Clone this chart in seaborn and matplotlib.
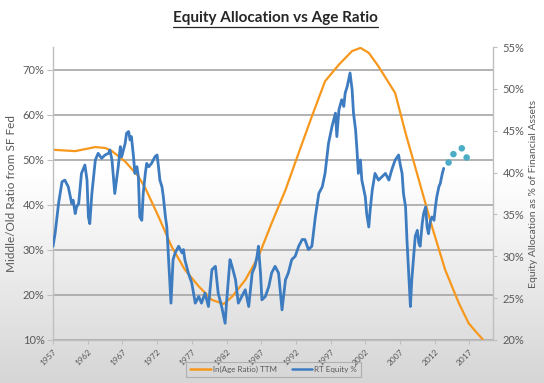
import numpy as np
import pandas as pd
import seaborn as sns
import matplotlib.pyplot as plt
from matplotlib.lines import Line2D
from matplotlib.colors import LinearSegmentedColormap

# ===== DATA =====
# orange curve, left axis (%)
age_years = [1957.0, 1960.2, 1963.1, 1964.5, 1965.5, 1967.4, 1969.3, 1970.3, 1972.2,
             1974.1, 1976.0, 1978.0, 1979.9, 1981.6, 1982.8, 1984.7, 1986.6, 1988.5,
             1990.5, 1992.4, 1994.3, 1996.2, 1998.2, 2000.1, 2001.3, 2002.5, 2003.9,
             2006.3, 2007.8, 2009.7, 2011.6, 2013.5, 2015.5, 2016.9, 2017.9, 2019.0]
age_ratio = [52.2, 51.9, 52.8, 52.6, 51.9, 49.6, 46.3, 43.7, 37.4,
             30.7, 25.6, 21.9, 18.9, 18.0, 19.6, 23.3, 28.5, 35.9,
             43.3, 51.5, 59.6, 67.4, 71.1, 74.1, 74.8, 73.7, 70.7,
             64.8, 55.9, 45.6, 35.2, 25.6, 18.1, 13.7, 11.9, 10.0]

# blue line, right axis (%)
eq_years = [1957.0, 1957.3, 1957.8, 1958.3, 1958.7, 1959.2, 1959.5, 1959.7, 1959.9, 1960.2,
            1960.4, 1960.7, 1961.1, 1961.6, 1961.9, 1962.1, 1962.3, 1962.6, 1963.1, 1963.5,
            1964.0, 1964.5, 1965.0, 1965.2, 1965.5, 1965.9, 1966.4, 1966.7, 1966.9, 1967.4,
            1967.6, 1967.9, 1968.1, 1968.3, 1968.6, 1968.8, 1969.1, 1969.3, 1969.5, 1969.8,
            1970.0, 1970.3, 1970.5, 1970.8, 1971.2, 1971.7, 1972.0, 1972.2, 1972.4, 1972.7,
            1972.9, 1973.2, 1973.4, 1973.6, 1973.9, 1974.0, 1974.3, 1974.6, 1975.1, 1975.6,
            1975.8, 1976.0, 1976.5, 1977.0, 1977.5, 1978.0, 1978.4, 1978.9, 1979.4, 1979.9,
            1980.4, 1980.8, 1981.3, 1981.8, 1982.0, 1982.5, 1982.8, 1983.3, 1983.7, 1984.2,
            1984.7, 1985.2, 1985.7, 1986.1, 1986.4, 1986.6, 1986.9, 1987.1, 1987.6, 1988.1,
            1988.5, 1989.0, 1989.5, 1990.0, 1990.5, 1990.9, 1991.4, 1991.9, 1992.4, 1992.9,
            1993.3, 1993.8, 1994.3, 1994.8, 1995.3, 1995.8, 1996.2, 1996.7, 1997.2, 1997.7,
            1997.9, 1998.2, 1998.6, 1998.9, 1999.1, 1999.4, 1999.6, 1999.8, 2000.1, 2000.3,
            2000.6, 2000.8, 2001.0, 2001.3, 2001.5, 2002.0, 2002.2, 2002.5, 2002.7, 2003.0,
            2003.4, 2003.9, 2004.4, 2004.9, 2005.4, 2005.8, 2006.3, 2006.8, 2007.0, 2007.3,
            2007.5, 2007.8, 2008.0, 2008.3, 2008.5, 2008.7, 2009.0, 2009.2, 2009.5, 2009.7,
            2009.9, 2010.2, 2010.4, 2010.7, 2010.9, 2011.1, 2011.4, 2011.6, 2011.9, 2012.1,
            2012.3, 2012.6, 2012.8, 2013.1, 2013.3]
equity_pct = [31.2, 32.7, 36.3, 38.9, 39.1, 38.3, 37.1, 36.3, 36.7, 35.1,
              35.9, 36.3, 39.9, 40.9, 39.1, 34.7, 33.9, 37.5, 41.5, 42.3,
              41.7, 42.1, 42.3, 42.7, 41.5, 37.5, 40.7, 43.1, 41.9, 43.5,
              44.7, 44.9, 43.9, 44.3, 41.9, 39.9, 40.7, 39.5, 34.7, 34.3,
              37.5, 39.9, 41.1, 40.7, 41.1, 41.9, 42.1, 40.7, 39.1, 38.3,
              37.1, 34.7, 33.5, 30.4, 25.6, 24.4, 29.6, 30.4, 31.2, 30.4,
              30.8, 29.6, 28.0, 26.8, 24.4, 25.2, 24.4, 25.6, 24.0, 28.4,
              28.8, 25.6, 24.0, 22.0, 24.4, 29.6, 28.8, 27.2, 24.4, 25.2,
              26.0, 24.0, 28.0, 28.8, 30.0, 31.2, 28.0, 24.8, 25.2, 26.4,
              28.0, 28.8, 28.0, 23.6, 27.2, 28.0, 29.6, 30.0, 31.2, 32.0,
              32.0, 30.8, 31.2, 34.7, 37.5, 38.3, 39.9, 43.5, 45.5, 47.1,
              44.3, 47.5, 48.7, 47.9, 49.5, 50.3, 51.1, 51.9, 49.9, 47.1,
              45.1, 42.7, 39.9, 41.5, 39.1, 37.1, 35.1, 33.5, 35.5, 37.9,
              39.9, 39.1, 39.5, 39.9, 39.1, 40.3, 41.5, 42.1, 41.1, 39.9,
              37.5, 35.9, 32.0, 27.2, 24.0, 27.2, 30.4, 32.4, 33.1, 31.6,
              31.2, 33.9, 35.1, 35.9, 33.5, 32.7, 34.3, 34.7, 34.3, 35.9,
              37.1, 38.3, 38.7, 39.9, 40.5]

# projected dots, right axis (%)
proj_years = [2014.0, 2014.7, 2015.9, 2016.6]
proj_pct = [41.2, 42.2, 42.9, 41.8]

tick_years = list(range(1957, 2018, 5))
left_ticks = [10, 20, 30, 40, 50, 60, 70]
right_ticks = [20, 25, 30, 35, 40, 45, 50, 55]

age_df = pd.DataFrame({"year": age_years, "val": age_ratio})
eq_df = pd.DataFrame({"year": eq_years, "val": equity_pct})
proj_df = pd.DataFrame({"year": proj_years, "val": proj_pct})

# ===== STYLE =====
sns.set_style("white")
plt.rcParams['font.family'] = ['Lato', 'DejaVu Sans']

orange = "#F7981D"
blue = "#3D7CC0"
teal = "#4BACC6"
txt = "#595959"
grid_c = "#A6A6A6"

fig = plt.figure(figsize=(5.44, 3.83), dpi=100)

# background gradient
bg = fig.add_axes([0, 0, 1, 1], zorder=-10)
grad = np.concatenate([np.zeros(45), np.linspace(0, 1, 55)])[:, None]
cmap = LinearSegmentedColormap.from_list("bg", ["#FFFFFF", "#D6D6D6"])
bg.imshow(grad, aspect="auto", cmap=cmap, extent=[0, 1, 0, 1], origin="upper")
bg.axis("off")

ax = fig.add_axes([53 / 544, 1 - 340 / 383, 440 / 544, 293 / 383])
ax.set_facecolor("none")
ax2 = ax.twinx()

sns.lineplot(data=age_df, x="year", y="val", ax=ax, color=orange, linewidth=1.6,
             label="ln(Age Ratio) TTM", legend=False)
sns.lineplot(data=eq_df, x="year", y="val", ax=ax2, color=blue, linewidth=2.0,
             label="RT Equity %", legend=False)
sns.scatterplot(data=proj_df, x="year", y="val", ax=ax2, color=teal, s=22,
                edgecolor="none", legend=False)

ax.set_xlim(1957, 2020.4)
ax.set_ylim(10, 75)
ax2.set_ylim(20, 55)

ax.set_yticks(left_ticks)
ax.set_yticklabels([f"{v}%" for v in left_ticks])
ax2.set_yticks(right_ticks)
ax2.set_yticklabels([f"{v}%" for v in right_ticks])
ax.set_xticks(tick_years)
ax.set_xticklabels([str(y) for y in tick_years], rotation=45, ha="right",
                   rotation_mode="anchor")

ax.yaxis.grid(True, color=grid_c, linewidth=1.2)
ax.set_axisbelow(True)

for a in (ax, ax2):
    for s in a.spines.values():
        s.set_visible(False)
ax.spines["left"].set_visible(True)
ax.spines["bottom"].set_visible(True)
ax2.spines["right"].set_visible(True)
for s in (ax.spines["left"], ax.spines["bottom"], ax2.spines["right"]):
    s.set_color("#BFBFBF")
    s.set_linewidth(1.0)

ax.tick_params(axis="y", length=4, color="#BFBFBF", labelsize=8, labelcolor=txt, pad=2)
ax.tick_params(axis="x", length=3, color="#BFBFBF", labelsize=6, labelcolor=txt, pad=3,
               bottom=True)
ax2.tick_params(axis="y", length=3, color="#BFBFBF", labelsize=8, labelcolor=txt, pad=4,
                right=True)

ax.set_xlabel("")
ax.set_ylabel("Middle/Old Ratio from SF Fed", fontsize=8.5, color=txt, labelpad=4)
ax2.set_ylabel("Equity Allocation as % of Financial Assets", fontsize=7.5, color=txt,
               labelpad=3)

# legend
handles = [Line2D([], [], color=orange, linewidth=1.8),
           Line2D([], [], color=blue, linewidth=1.8)]
leg = fig.legend(handles, ["ln(Age Ratio) TTM", "RT Equity %"], loc="center",
                 bbox_to_anchor=(0.503, 0.035), ncol=2, fontsize=5.8, frameon=True,
                 fancybox=False, handlelength=2.6, columnspacing=1.8,
                 borderpad=0.5, handletextpad=0.2, labelcolor=txt)
leg.get_frame().set_edgecolor("#A6A6A6")
leg.get_frame().set_facecolor("none")
leg.get_frame().set_linewidth(0.8)

# title with underline
title = fig.text(0.507, 0.952, "Equity Allocation vs Age Ratio", ha="center", va="center",
                 fontsize=11, fontweight="bold", color="#262626")
fig.canvas.draw()
bb = title.get_window_extent().transformed(fig.transFigure.inverted())
fig.add_artist(Line2D([bb.x0, bb.x1], [bb.y0 - 0.004, bb.y0 - 0.004], color="#262626",
                      linewidth=0.9, transform=fig.transFigure))

fig.savefig("out.png", dpi=100)
